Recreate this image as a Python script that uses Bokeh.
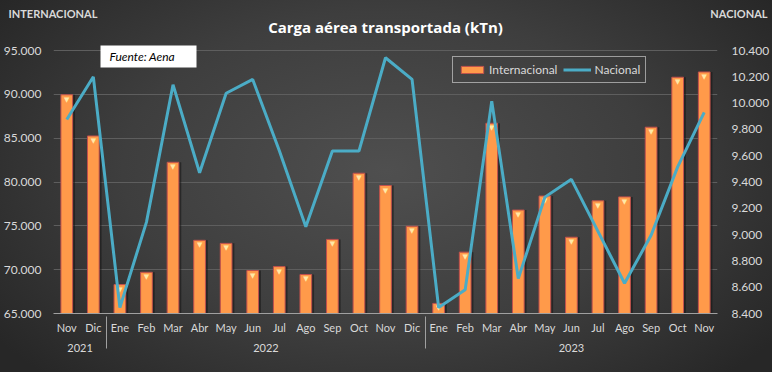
from bokeh.plotting import figure
from bokeh.models import (FactorRange, Range1d, LinearAxis, FixedTicker, Label, Title,
                          BoxAnnotation, Legend, LegendItem, ColumnDataSource,
                          GlobalInlineStyleSheet)
from bokeh.transform import dodge
from bokeh.core.properties import value
from bokeh.embed import file_html
from bokeh.resources import INLINE

# ---------------- data ----------------
years = ["2021"] * 2 + ["2022"] * 12 + ["2023"] * 11
months = ["Nov", "Dic",
          "Ene", "Feb", "Mar", "Abr", "May", "Jun", "Jul", "Ago", "Sep", "Oct", "Nov", "Dic",
          "Ene", "Feb", "Mar", "Abr", "May", "Jun", "Jul", "Ago", "Sep", "Oct", "Nov"]
internacional = [89950, 85250,
                 68300, 69700, 82250, 73350, 73000, 69900, 70350, 69450, 73450, 81000, 79600, 74950,
                 66150, 72000, 86700, 76800, 78400, 73700, 77850, 78300, 86250, 91950, 92550]
nacional = [9875, 10200,
            8445, 9095, 10140, 9470, 10075, 10180, 9640, 9060, 9635, 9635, 10345, 10180,
            8445, 8580, 10015, 8665, 9285, 9420, 9025, 8630, 8995, 9515, 9930]
left_ticks = [65000, 70000, 75000, 80000, 85000, 90000, 95000]
left_labels = ["65.000", "70.000", "75.000", "80.000", "85.000", "90.000", "95.000"]
right_ticks = [8400, 8600, 8800, 9000, 9200, 9400, 9600, 9800, 10000, 10200, 10400]
right_labels = ["8.400", "8.600", "8.800", "9.000", "9.200", "9.400", "9.600",
                "9.800", "10.000", "10.200", "10.400"]
title_text = "Carga aérea transportada (kTn)"
left_title = "INTERNACIONAL"
right_title = "NACIONAL"
source_text = "Fuente: Aena"
legend_labels = ["Internacional", "Nacional"]

# ---------------- layout constants (pixels) ----------------
W, H = 772, 372
FRAME_L, FRAME_R, FRAME_T, FRAME_B = 52, 717, 40, 313
GRID_TOP = 50          # pixel row of the top gridline
FONT = "Lato"
TXT = "#d9d9d9"

# extend the ranges so the frame reaches above the top gridline
extra = (GRID_TOP - FRAME_T) / (FRAME_B - GRID_TOP)
l_end = left_ticks[-1] + (left_ticks[-1] - left_ticks[0]) * extra
r_end = right_ticks[-1] + (right_ticks[-1] - right_ticks[0]) * extra

factors = list(zip(years, months))
src = ColumnDataSource(dict(x=factors, intl=internacional, nac=nacional))

p = figure(width=W, height=H,
           x_range=FactorRange(*factors, group_padding=0, factor_padding=0, range_padding=0),
           y_range=Range1d(left_ticks[0], l_end),
           output_backend="svg", toolbar_location=None,
           min_border_left=FRAME_L, min_border_right=W - FRAME_R,
           min_border_top=FRAME_T, min_border_bottom=H - FRAME_B)
p.extra_y_ranges = {"nac": Range1d(right_ticks[0], r_end)}

p.border_fill_color = None
p.background_fill_color = None
p.outline_line_color = None
p.stylesheets = [GlobalInlineStyleSheet(css=(
    "html { min-height: 100%; background: radial-gradient(ellipse 62% 78% at 50% 46%, "
    "#4f4f4f 0%, #3e3e3e 55%, #272727 100%); }"
    "body { background: transparent; }"))]

# grid
p.xgrid.grid_line_color = None
p.ygrid.ticker = FixedTicker(ticks=left_ticks)
p.ygrid.grid_line_color = "#5e5e5e"
p.ygrid.grid_line_width = 1

# left axis
la = p.yaxis[0]
la.ticker = FixedTicker(ticks=left_ticks)
la.major_label_overrides = dict(zip(left_ticks, left_labels))
la.axis_line_color = None
la.major_tick_line_color = None
la.minor_tick_line_color = None
la.major_tick_out = 0
la.major_tick_in = 0
la.major_label_standoff = 12
la.major_label_text_color = TXT
la.major_label_text_font = FONT
la.major_label_text_font_size = "12px"

# right axis
ra = LinearAxis(y_range_name="nac", ticker=FixedTicker(ticks=right_ticks),
                major_label_overrides=dict(zip(right_ticks, right_labels)))
ra.axis_line_color = None
ra.major_tick_line_color = None
ra.minor_tick_line_color = None
ra.major_tick_out = 0
ra.major_tick_in = 0
ra.major_label_standoff = 14
ra.major_label_text_color = TXT
ra.major_label_text_font = FONT
ra.major_label_text_font_size = "12px"
p.add_layout(ra, "right")

# bottom axis
xa = p.xaxis[0]
xa.axis_line_color = "#a0a0a0"
xa.major_tick_line_color = None
xa.minor_tick_line_color = None
xa.major_tick_out = 0
xa.major_tick_in = 0
xa.major_label_text_color = TXT
xa.major_label_text_font = FONT
xa.major_label_text_font_size = "11px"
xa.major_label_standoff = 7
xa.group_text_color = TXT
xa.group_text_font = FONT
xa.group_text_font_size = "11px"
xa.group_text_font_style = "normal"
xa.separator_line_color = "#a0a0a0"
xa.separator_line_width = 1

# bar shadows, bars, bevel highlight
p.vbar(x=dodge("x", 0.09, range=p.x_range), top="intl", bottom=left_ticks[0], width=0.44,
       source=src, fill_color="#141414", fill_alpha=0.55, line_color=None)
bars = p.vbar(x="x", top="intl", bottom=left_ticks[0], width=0.44, source=src,
              fill_color="#ff9a4a", line_color="#c0504d", line_width=1)
p.text(x="x", y="intl", text=value("▼"), source=src, text_font=value("DejaVu Sans"),
       text_font_size="7px", text_color="#ffe9a6", text_align="center",
       text_baseline="top", y_offset=1)

# line
line = p.line(x="x", y="nac", source=src, y_range_name="nac",
              line_color="#4bacc6", line_width=3)

# legend
legend = Legend(items=[LegendItem(label=legend_labels[0], renderers=[bars]),
                       LegendItem(label=legend_labels[1], renderers=[line])],
                orientation="horizontal", location=(399, 230),
                border_line_color="white", border_line_width=1,
                background_fill_alpha=0, padding=5, spacing=6, margin=0,
                label_text_color=TXT, label_text_font=FONT, label_text_font_size="12px",
                glyph_width=28, glyph_height=9, label_standoff=3)
p.add_layout(legend, "center")

# titles above the frame (stacked outward from the frame)
p.add_layout(Title(text=title_text, align="center", vertical_align="top", standoff=4,
                   text_font="Open Sans", text_font_size="15px", text_font_style="bold",
                   text_color="white"), "above")
p.add_layout(Title(text=left_title, align="left", vertical_align="top", standoff=-15,
                   offset=7 - FRAME_L, text_font=FONT, text_font_size="11px",
                   text_font_style="bold", text_color=TXT), "above")
p.add_layout(Title(text=right_title, align="right", vertical_align="top", standoff=-15,
                   offset=FRAME_R - (W - 5), text_font=FONT, text_font_size="11px",
                   text_font_style="bold", text_color=TXT), "above")
p.add_layout(Title(text=" ", align="left", vertical_align="top", standoff=2,
                   text_font=FONT, text_font_size="8px", text_color=TXT), "above")

# source box
p.add_layout(BoxAnnotation(left=47, right=143, bottom=246, top=268,
                           left_units="screen", right_units="screen",
                           bottom_units="screen", top_units="screen",
                           fill_color="white", fill_alpha=1, line_color=None))
p.add_layout(Label(x=56, y=257, x_units="screen", y_units="screen", text=source_text,
                   text_align="left", text_baseline="middle", text_font=FONT,
                   text_font_size="12px", text_font_style="italic", text_color="black"))

open("out.html", "w").write(file_html(p, INLINE))
